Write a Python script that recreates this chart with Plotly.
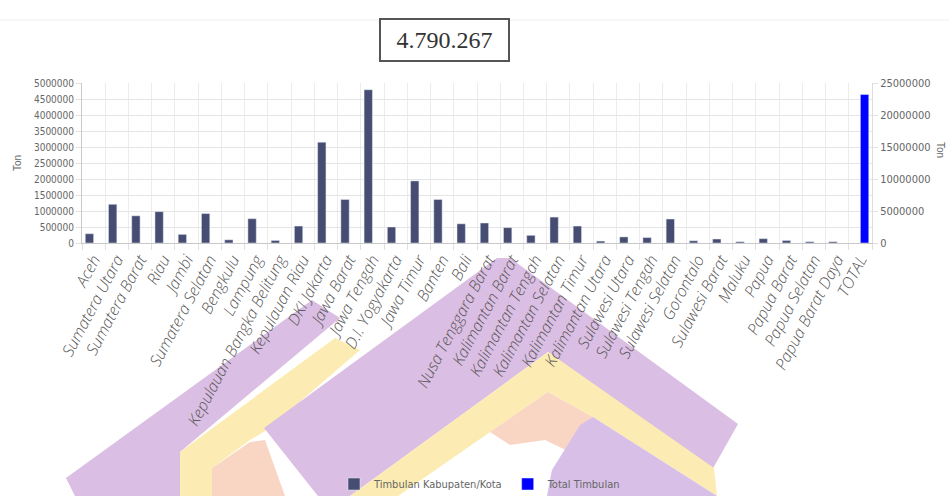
import plotly.graph_objects as go

# ---------------- data ----------------
provinsi = [
    "Aceh", "Sumatera Utara", "Sumatera Barat", "Riau", "Jambi", "Sumatera Selatan",
    "Bengkulu", "Lampung", "Kepulauan Bangka Belitung", "Kepulauan Riau", "DKI Jakarta",
    "Jawa Barat", "Jawa Tengah", "D.I. Yogyakarta", "Jawa Timur", "Banten", "Bali",
    "Nusa Tenggara Barat", "Kalimantan Barat", "Kalimantan Tengah", "Kalimantan Selatan",
    "Kalimantan Timur", "Kalimantan Utara", "Sulawesi Utara", "Sulawesi Tengah",
    "Sulawesi Selatan", "Gorontalo", "Sulawesi Barat", "Maluku", "Papua", "Papua Barat",
    "Papua Selatan", "Papua Barat Daya",
]
timbulan = [
    290000, 1210000, 850000, 980000, 270000, 920000,
    100000, 760000, 80000, 530000, 3150000,
    1360000, 4790267, 500000, 1940000, 1360000, 600000,
    625000, 480000, 240000, 810000,
    530000, 60000, 190000, 170000,
    750000, 70000, 125000, 40000, 135000, 80000,
    40000, 40000,
]
total_label = "TOTAL"
total_timbulan = 23200000
highlight_text = "4.790.267"

categories = provinsi + [total_label]
y_left = timbulan + [None]
y_right = [None] * len(provinsi) + [total_timbulan]

# ---------------- geometry helpers ----------------
FIG_W, FIG_H = 949, 496
L, R, T, B = 82, 872, 83, 243


def px(x, y):
    return (x - L) / (R - L), (B - y) / (B - T)


def poly(points, color):
    pts = [px(x, y) for x, y in points]
    path = "M " + " L ".join(f"{a:.4f},{b:.4f}" for a, b in pts) + " Z"
    return dict(type="path", xref="paper", yref="paper", path=path,
                fillcolor=color, line=dict(width=0), layer="below")


PURPLE = "#dbbee3"
PURPLE2 = "#d8bfe8"
YELLOW = "#fcecb3"
PEACH = "#f9d6c4"

shapes = [
    # decorative watermark
    poly([(66, 478), (312, 300), (340, 318), (180, 452), (180, 496), (75, 496)], PURPLE),
    poly([(180, 452), (335, 338), (360, 350), (267, 430), (250, 440), (212, 468),
          (212, 496), (180, 496)], YELLOW),
    poly([(212, 468), (250, 442), (265, 440), (285, 496), (212, 496)], PEACH),
    poly([(318, 496), (264, 428), (497, 258), (510, 258), (738, 424), (712, 470),
          (548, 352), (350, 496)], PURPLE),
    poly([(350, 496), (548, 352), (714, 468), (717, 496), (593, 417), (548, 392),
          (398, 496)], YELLOW),
    poly([(490, 432), (548, 392), (593, 417), (570, 452), (545, 440), (510, 445)], PEACH),
    poly([(593, 417), (717, 496), (547, 496), (552, 470), (580, 425)], PURPLE2),
]
# faint top line
lx0, ly0 = px(0, 20)
lx1, _ = px(FIG_W, 20)
shapes.append(dict(type="line", xref="paper", yref="paper", x0=lx0, x1=lx1, y0=ly0, y1=ly0,
                   line=dict(color="#eeeeee", width=1), layer="below"))

# ---------------- figure ----------------
fig = go.Figure()
fig.add_trace(go.Bar(
    x=categories, y=y_left, name="Timbulan Kabupaten/Kota",
    marker=dict(color="#474d72"), width=0.36, offset=-0.36, yaxis="y",
))
fig.add_trace(go.Bar(
    x=categories, y=y_right, name="Total Timbulan",
    marker=dict(color="#0000ff"), width=0.36, offset=0.0, yaxis="y2",
))

tick_font = dict(family="Liberation Sans Narrow, DejaVu Sans Condensed, Liberation Sans, sans-serif",
                 size=10, color="#666666")

bx, by = px(444.5, 40)
tx, ty = px(941, 150)
legx, legy = px(480, 484)

fig.update_layout(
    width=FIG_W, height=FIG_H,
    margin=dict(l=L, r=FIG_W - R, t=T, b=FIG_H - B, autoexpand=False),
    paper_bgcolor="white", plot_bgcolor="rgba(0,0,0,0)",
    barmode="overlay",
    showlegend=True,
    legend=dict(orientation="h", x=legx, y=legy, xanchor="center", yanchor="middle",
                font=dict(family="Liberation Sans Narrow, DejaVu Sans Condensed, sans-serif",
                          size=11, color="#666666"),
                bgcolor="rgba(0,0,0,0)"),
    xaxis=dict(
        type="category", tickson="boundaries", tickangle=-62,
        tickfont=dict(family="Open Sans, Liberation Sans, sans-serif", size=16,
                      style="italic", weight=300, color="#555555"),
        showgrid=True, gridcolor="#ececec", gridwidth=1,
        showline=True, linecolor="#c8c8c8",
        ticks="outside", ticklen=6, tickcolor="#e0e0e0",
        automargin=False, fixedrange=True,
    ),
    yaxis=dict(
        range=[0, 5000000], dtick=500000, tickformat="d",
        tickfont=tick_font, showgrid=True, gridcolor="#e4e4e4",
        showline=True, linecolor="#c8c8c8",
        ticks="outside", ticklen=5, tickcolor="#e0e0e0",
        zeroline=False,
        title=dict(text="Ton", font=dict(family="Liberation Sans, sans-serif", size=10,
                                          color="#666666"), standoff=10),
        automargin=False,
    ),
    yaxis2=dict(
        overlaying="y", side="right", range=[0, 25000000], dtick=5000000, tickformat="d",
        tickfont=dict(family="Liberation Sans Narrow, DejaVu Sans Condensed, sans-serif",
                      size=11, color="#666666"),
        showgrid=False, showline=True, linecolor="#dddddd",
        ticks="outside", ticklen=5, tickcolor="#e0e0e0", zeroline=False,
        automargin=False,
    ),
    shapes=shapes,
    annotations=[
        dict(text=highlight_text, xref="paper", yref="paper", x=bx, y=by,
             xanchor="center", yanchor="middle", showarrow=False,
             font=dict(family="Liberation Serif, Times New Roman, serif", size=24, color="#333333"),
             width=127, height=40, bordercolor="#555555", borderwidth=2, borderpad=0,
             bgcolor="white"),
        dict(text="Ton", xref="paper", yref="paper", x=tx, y=ty, showarrow=False,
             textangle=90, xanchor="center", yanchor="middle",
             font=dict(family="Liberation Sans, sans-serif", size=10, color="#666666")),
    ],
)

fig.write_html("out.html")
